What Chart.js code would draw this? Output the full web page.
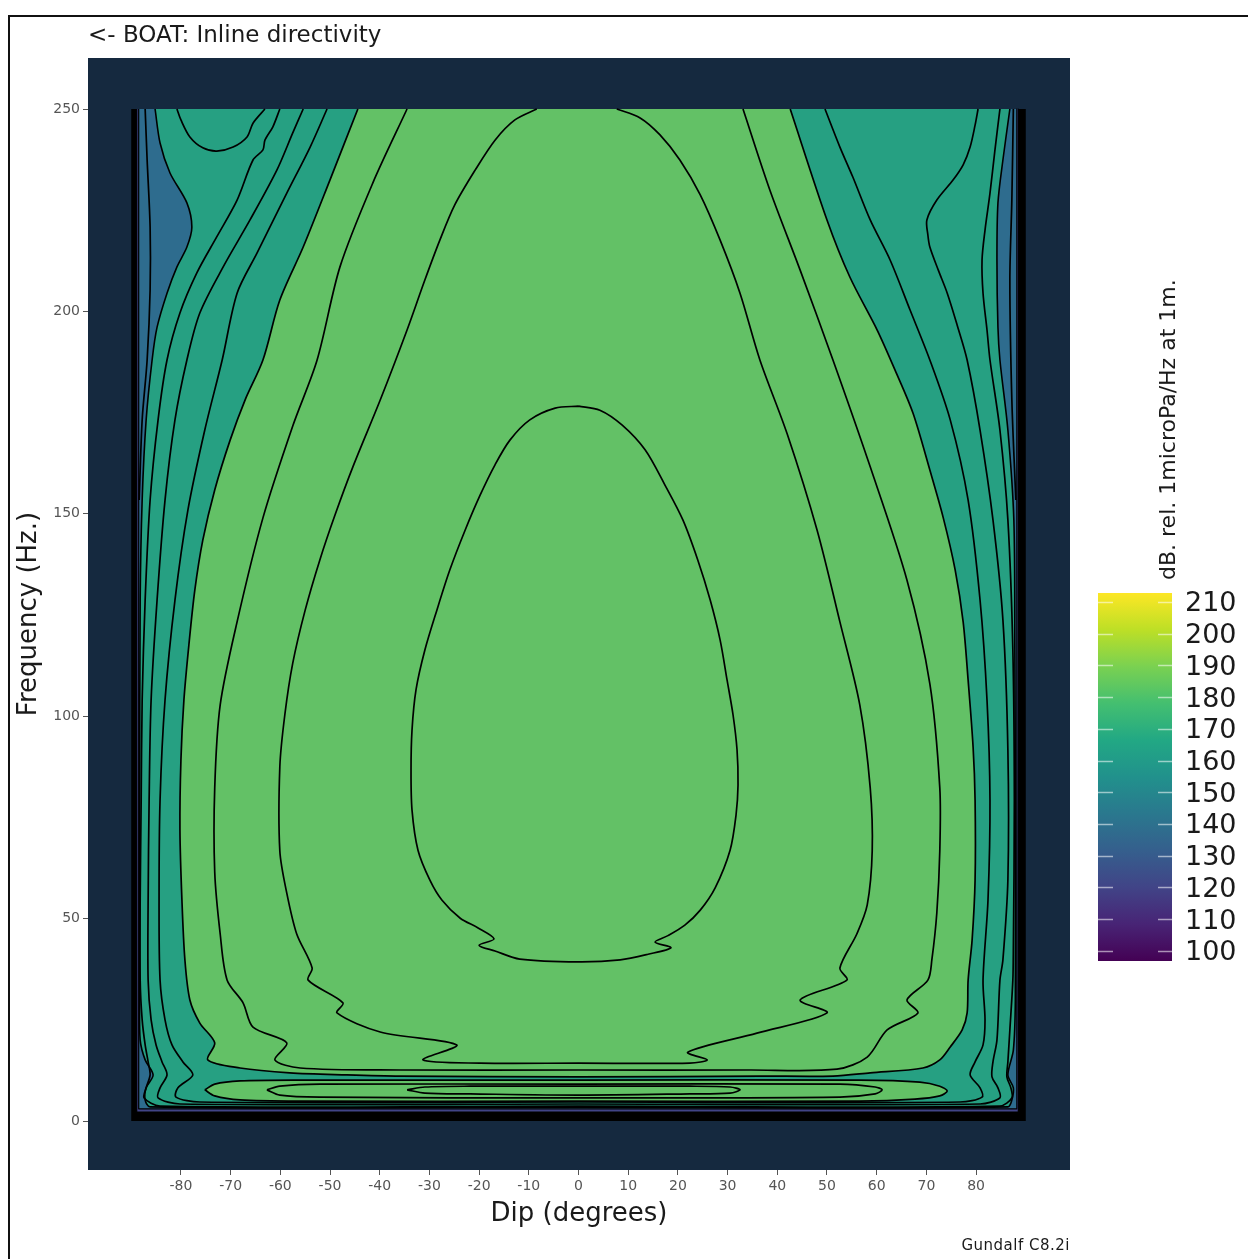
<!DOCTYPE html>
<html>
<head>
<meta charset="utf-8">
<script src="https://cdn.jsdelivr.net/npm/chart.js@4.4.1/dist/chart.umd.min.js"></script>
<style>
  html, body { margin: 0; padding: 0; background: #fff; width: 1248px; height: 1259px; overflow: hidden; }
  body { position: relative; font-family: 'DejaVu Sans', sans-serif; }
  #frame { position: absolute; left: 8px; top: 15px; width: 1300px; height: 1300px; border: 2px solid #111; }
  #main { position: absolute; left: 0; top: 0; }
  #bar { position: absolute; left: 1090px; top: 553px; }
  .txt { position: absolute; white-space: nowrap; color: #1a1a1a; }
  #title { left: 88px; top: 20px; font-size: 23px; line-height: 28px; }
  #cbTitle { left: 1156px; top: 580px; font-size: 22px; line-height: 24px; transform-origin: 0 0; transform: rotate(-90deg); }
  #credit { right: 178px; top: 1236px; font-size: 15px; line-height: 18px; letter-spacing: 0.5px; }
</style>
</head>
<body>
<div id="frame"></div>
<canvas id="main" width="1248" height="1259"></canvas>
<canvas id="bar" width="158" height="448"></canvas>
<div class="txt" id="title">&lt;- BOAT: Inline directivity</div>
<div class="txt" id="cbTitle">dB. rel. 1microPa/Hz at 1m.</div>
<div class="txt" id="credit">Gundalf C8.2i</div>
<script>
// axes
const xTicks = [-80, -70, -60, -50, -40, -30, -20, -10, 0, 10, 20, 30, 40, 50, 60, 70, 80];
const yTicks = [0, 50, 100, 150, 200, 250];
const xRange = [-98.7, 98.9];
const yRange = [-12.1, 262.6];
// colour bar (dB)
const cbTicks = [100, 110, 120, 130, 140, 150, 160, 170, 180, 190, 200, 210];
const cbRange = [96.8, 212.8];
const viridis = ['#440154', '#482475', '#414487', '#355f8d', '#2a788e', '#21918c', '#22a884', '#44bf70', '#7ad151', '#bddf26', '#fde725'];

// filled bands, [dip deg, Hz], painted bottom to top
const plotEdge = [[-90, 250], [90, 250], [90, 0], [-90, 0], [-90, 250]];
const purpleBand = [[-88.9, 250], [88.5, 250], [88.5, 2.2], [-88.9, 2.2], [-88.9, 250]];
const blueBand = [[-88.5, 250], [88.2, 250], [88.2, 3.0], [-88.5, 3.0], [-88.5, 250]];
const tealBand = [[-85.2, 250], [86.8, 250], [86.8, 250], [85.4, 237.4], [84.4, 226.8], [84.2, 212.7], [84.4, 196.1],
  [84.8, 188.0], [86.4, 170.7], [87.6, 148.5], [87.8, 116.4], [87.9, 79.3], [87.9, 29.9], [87.5, 17.5], [86.4, 11.4],
  [87.5, 8.2], [87.2, 5.2], [86.4, 3.5], [0, 3.4], [-86.2, 3.5], [-87.2, 5.2], [-87.0, 8.2], [-85.6, 11.4], [-87.2, 15.1],
  [-88.2, 20.0], [-88.3, 29.9], [-88.3, 79.3], [-88.2, 128.7], [-87.8, 153.4], [-87.0, 173.2], [-85.8, 188.0],
  [-84.8, 196.1], [-82.8, 204.5], [-80.8, 211.0], [-78.8, 215.9], [-77.8, 220.8], [-78.8, 226.8], [-82.2, 234.2],
  [-84.2, 241.6], [-85.2, 250]];
const greenMain = [[-44.4, 250], [42.6, 250], [42.6, 250], [50.0, 222.6], [54.6, 208.5], [60.1, 195.4], [63.7, 185.5],
  [67.3, 174.9], [70.7, 160.8], [73.4, 149.0], [75.8, 136.1], [77.4, 123.3], [78.4, 108.9], [79.4, 92.4], [79.8, 79.3],
  [79.8, 59.5], [79.2, 44.7], [78.4, 34.8], [78.2, 26.7], [77.2, 22.5], [74.8, 18.3], [72.7, 15.1], [69.3, 13.1],
  [58.7, 11.9], [51.2, 11.1], [36.5, 11.1], [0, 10.9], [-35.9, 11.1], [-46.6, 11.4], [-58.1, 11.9], [-68.1, 13.1],
  [-74.6, 15.1], [-73.2, 19.3], [-76.2, 24.2], [-78.2, 29.9], [-79.2, 39.8], [-79.8, 54.6], [-80.2, 71.9], [-80.0, 89.2],
  [-79.4, 104.0], [-78.4, 117.6], [-77.2, 131.2], [-75.6, 143.5], [-73.2, 155.9], [-70.1, 168.2], [-67.1, 178.1],
  [-63.5, 188.0], [-60.1, 202.8], [-55.4, 215.9], [-50.0, 232.5], [-44.4, 250]];
const greenLow = [[-75.2, 7.7], [-73.2, 9.1], [-68.1, 9.9], [-56.0, 10.1], [0, 10.1], [56.6, 10.1], [68.7, 9.6],
  [72.7, 8.6], [74.2, 7.4], [72.7, 6.2], [67.7, 5.4], [56.6, 4.9], [0, 4.9], [-56.0, 4.9], [-68.1, 5.2], [-73.2, 6.2],
  [-75.2, 7.7]];

// contour lines
const egg = [[0, 176.6], [-4.7, 176.1], [-9.8, 173.2], [-13.8, 168.2], [-16.8, 162.1], [-19.8, 154.6], [-22.8, 146.0],
  [-25.9, 136.1], [-28.5, 126.2], [-30.9, 116.4], [-32.7, 106.5], [-33.5, 96.6], [-33.7, 86.7], [-33.5, 76.8],
  [-32.3, 66.9], [-29.9, 59.5], [-27.5, 54.6], [-23.8, 50.1], [-20.2, 47.7], [-17.0, 45.0], [-20.0, 43.4], [-16.8, 42.0],
  [-11.8, 40.0], [0, 39.3], [8.4, 39.8], [14.0, 41.2], [18.6, 42.8], [15.4, 44.2], [18.0, 45.8], [21.4, 48.4],
  [24.5, 52.1], [27.5, 57.6], [30.5, 66.9], [31.7, 75.6], [32.1, 83.0], [31.9, 91.7], [31.1, 100.3], [29.9, 108.9],
  [28.5, 118.8], [26.5, 128.7], [24.0, 138.6], [21.0, 148.5], [17.4, 157.1], [13.4, 165.8], [8.8, 171.9], [4.3, 175.6],
  [0, 176.6]];
const ring2 = [[-8.4, 250], [-12.8, 247.3], [-16.8, 242.3], [-20.8, 234.9], [-24.9, 226.3], [-27.9, 217.6],
  [-30.9, 207.8], [-34.5, 195.4], [-39.9, 178.1], [-45.4, 161.6], [-49.0, 149.7], [-52.0, 138.8], [-55.0, 126.2],
  [-57.5, 113.1], [-59.1, 100.3], [-60.1, 87.5], [-60.1, 66.7], [-58.7, 56.3], [-56.7, 46.2], [-53.6, 37.8],
  [-54.4, 34.8], [-47.4, 29.2], [-48.6, 26.7], [-39.9, 22.0], [-24.5, 18.8], [-31.3, 15.1], [-19.8, 14.3], [0, 14.3],
  [22.4, 14.3], [25.9, 15.1], [22.0, 17.0], [35.9, 21.7], [50.0, 26.7], [44.6, 29.9], [54.0, 34.8], [52.6, 37.8],
  [56.0, 46.2], [58.1, 53.4], [59.1, 66.7], [58.7, 82.3], [56.6, 102.8], [52.6, 123.3], [48.0, 146.0], [42.0, 169.7],
  [36.5, 188.0], [32.5, 204.5], [28.5, 217.6], [24.5, 228.8], [20.4, 237.4], [16.4, 243.6], [12.4, 247.8], [7.7, 250]];
const ring3 = [[-34.5, 250], [-41.4, 231.7], [-48.0, 211.0], [-52.6, 188.0], [-57.5, 171.7], [-63.5, 149.0],
  [-68.7, 123.3], [-72.1, 102.8], [-73.2, 82.3], [-73.2, 61.5], [-72.1, 46.2], [-70.7, 34.8], [-67.5, 29.2],
  [-65.5, 23.2], [-58.7, 19.3], [-61.1, 15.1], [-56.0, 13.1], [-35.9, 12.6], [0, 12.6], [34.5, 12.6], [52.0, 12.8],
  [58.1, 15.8], [62.1, 22.5], [68.3, 26.7], [66.1, 29.9], [70.3, 34.8], [71.1, 39.8], [72.1, 51.4], [72.7, 66.7],
  [72.7, 82.3], [70.7, 108.0], [66.1, 133.6], [58.7, 161.6], [51.2, 188.0], [44.6, 210.2], [38.5, 230.0], [33.1, 250]];
const edge3 = [[-50.6, 250], [-54.0, 240.6], [-58.7, 229.2], [-64.7, 214.4], [-68.7, 204.5], [-71.7, 188.0],
  [-75.2, 170.7], [-78.6, 150.9], [-81.2, 128.7], [-83.2, 104.0], [-84.2, 79.3], [-84.4, 54.6], [-84.2, 34.8],
  [-83.2, 25.0], [-81.8, 18.8], [-79.6, 14.6], [-77.6, 11.4], [-80.6, 8.2], [-81.0, 5.9], [-76.2, 4.7], [0, 4.7],
  [76.8, 4.7], [81.2, 5.9], [80.8, 8.2], [78.8, 11.4], [79.8, 14.6], [81.4, 18.8], [81.8, 25.0], [81.4, 34.8],
  [82.4, 54.6], [82.8, 79.3], [82.2, 104.0], [80.8, 128.7], [78.4, 153.4], [74.8, 173.2], [70.7, 188.0], [66.7, 200.4],
  [62.7, 212.7], [58.7, 222.6], [55.2, 233.2], [52.6, 240.6], [49.6, 250]];
const edge2 = [[-55.4, 250], [-57.5, 244.1], [-60.7, 234.9], [-66.1, 222.6], [-71.5, 211.0], [-76.2, 199.6],
  [-78.8, 188.0], [-81.2, 173.2], [-83.2, 153.4], [-84.8, 128.7], [-86.0, 104.0], [-86.4, 79.3], [-86.6, 54.6],
  [-86.6, 34.8], [-86.0, 25.0], [-85.0, 18.8], [-83.8, 14.6], [-82.8, 11.4], [-84.2, 8.2], [-84.6, 5.7], [-80.2, 4.2],
  [0, 4.2], [80.8, 4.2], [84.8, 5.7], [84.4, 8.2], [83.2, 10.9], [83.4, 14.6], [84.2, 20.0], [84.8, 34.8], [85.4, 39.8],
  [86.4, 59.5], [86.4, 91.7], [85.4, 123.8], [83.4, 148.5], [80.8, 170.7], [78.2, 188.0], [76.2, 196.6], [74.2, 204.5],
  [72.4, 210.2], [70.7, 215.9], [70.3, 218.9], [70.1, 222.6], [72.1, 227.5], [75.4, 232.5], [77.4, 236.2],
  [78.8, 240.6], [79.8, 246.0], [80.4, 250]];
const edge1 = [[-60.1, 250], [-61.5, 245.6], [-63.1, 242.3], [-63.5, 239.9], [-65.5, 237.4], [-68.7, 227.5],
  [-72.8, 218.4], [-76.8, 209.5], [-80.2, 199.6], [-82.8, 188.0], [-84.6, 173.2], [-86.2, 153.4], [-87.2, 128.7],
  [-87.8, 104.0], [-88.0, 79.3], [-88.2, 54.6], [-88.2, 34.8], [-87.8, 25.0], [-87.2, 18.8], [-86.6, 14.6],
  [-86.2, 11.4], [-87.0, 8.2], [-87.4, 5.7], [-84.2, 3.7], [0, 3.7], [84.8, 3.7], [87.2, 5.7], [87.0, 8.2], [86.2, 10.9],
  [86.4, 14.6], [86.8, 22.5], [87.4, 34.8], [87.5, 42.2], [87.7, 79.3], [87.4, 116.4], [86.4, 148.5], [84.8, 170.7],
  [82.8, 188.0], [82.2, 195.4], [81.4, 204.5], [81.2, 212.7], [81.8, 220.1], [82.8, 229.2], [83.8, 239.9], [84.8, 250]];
const pocket = [[-80.8, 250], [-80.0, 247.3], [-78.2, 243.1], [-75.6, 240.4], [-72.8, 239.6], [-69.5, 240.6],
  [-66.7, 243.1], [-65.5, 246.5], [-63.1, 250]];
const blueLeft = [[-87.2, 250], [-86.8, 237.4], [-86.2, 220.8], [-86.2, 205.3], [-86.8, 188.0], [-87.8, 173.2], [-88.4, 153.4]];
const blueRight = [[87.5, 250], [87.2, 227.5], [86.8, 207.8], [87.2, 178.1], [88.0, 153.4]];
const lowRing2 = [[-62.7, 7.7], [-60.1, 8.6], [-52.0, 9.1], [0, 9.1], [52.6, 9.1], [59.7, 8.4], [61.1, 7.7], [59.7, 6.7],
  [52.6, 5.9], [0, 5.7], [-52.0, 5.9], [-60.1, 6.4], [-62.7, 7.7]];
const lowRing3 = [[-34.5, 7.7], [-30.9, 8.4], [-21.8, 8.6], [0, 8.6], [22.4, 8.6], [30.5, 8.4], [32.5, 7.7], [30.5, 6.9],
  [22.4, 6.7], [0, 6.4], [-21.8, 6.7], [-30.9, 6.9], [-34.5, 7.7]];

Chart.defaults.font.family = "'DejaVu Sans', sans-serif";

const toPts = a => a.map(([x, y]) => ({ x, y }));
const band = (a, color, tension, bw) => ({
  data: toPts(a), backgroundColor: color, fill: 'shape', borderColor: '#000', borderWidth: bw,
  tension, pointRadius: 0, borderJoinStyle: 'round',
  // no contour line along the top edge of the data
  segment: { borderColor: c => (c.p0.parsed.y >= 249.99 && c.p1.parsed.y >= 249.99) ? 'rgba(0,0,0,0)' : undefined },
});
const contour = a => ({
  data: toPts(a), fill: false, borderColor: '#000', borderWidth: 1.7, tension: 0.3,
  pointRadius: 0, borderJoinStyle: 'round',
});

const datasets = [
  band(plotEdge, '#000000', 0, 0),
  band(purpleBand, '#414487', 0, 1.2),
  band(blueBand, '#2e6c8e', 0, 1.2),
  band(tealBand, '#26a082', 0.3, 1.6),
  band(greenMain, '#63c166', 0.3, 1.7),
  band(greenLow, '#63c166', 0.3, 1.7),
  contour(blueLeft), contour(blueRight), contour(pocket),
  contour(edge1), contour(edge2), contour(edge3),
  contour(ring3), contour(ring2), contour(egg),
  contour(lowRing2), contour(lowRing3),
].map((d, i) => ({ ...d, order: -i }));

const panelBg = {
  id: 'panelBg',
  beforeDatasetsDraw(chart) {
    const { ctx, chartArea: a } = chart;
    ctx.save();
    ctx.fillStyle = '#15293f';
    ctx.fillRect(a.left, a.top, a.right - a.left, a.bottom - a.top);
    ctx.restore();
  },
};

new Chart(document.getElementById('main'), {
  type: 'line',
  data: { datasets },
  options: {
    responsive: false, animation: false, events: [],
    layout: { padding: { top: 58, right: 178, left: 0, bottom: 0 } },
    plugins: { legend: { display: false }, tooltip: { enabled: false } },
    scales: {
      x: {
        type: 'linear', min: xRange[0], max: xRange[1],
        afterBuildTicks: s => { s.ticks = xTicks.map(v => ({ value: v })); },
        afterFit: s => { s.height = 89; },
        ticks: { color: '#555', font: { size: 14 }, padding: 3, autoSkip: false, maxRotation: 0 },
        grid: { drawOnChartArea: false, color: '#555', tickLength: 5 },
        border: { display: false },
        title: { display: true, text: 'Dip (degrees)', color: '#1a1a1a', font: { size: 26 }, padding: { top: 0, bottom: 29 } },
      },
      y: {
        type: 'linear', min: yRange[0], max: yRange[1],
        afterBuildTicks: s => { s.ticks = yTicks.map(v => ({ value: v })); },
        afterFit: s => { s.width = 88; },
        ticks: { color: '#555', font: { size: 14 }, padding: 3, autoSkip: false },
        grid: { drawOnChartArea: false, color: '#555', tickLength: 5 },
        border: { display: false },
        title: { display: true, text: 'Frequency (Hz.)', color: '#1a1a1a', font: { size: 26 }, padding: { top: 14, bottom: 0 } },
      },
    },
  },
  plugins: [panelBg],
});

// white level marks across the colour bar
const cbMarks = {
  id: 'cbMarks',
  afterDatasetsDraw(chart) {
    const { ctx, chartArea: a, scales: { y } } = chart;
    ctx.save();
    ctx.strokeStyle = 'rgba(255,255,255,0.55)';
    ctx.lineWidth = 1.3;
    cbTicks.forEach(v => {
      const py = Math.round(y.getPixelForValue(v)) + 0.5;
      ctx.beginPath();
      ctx.moveTo(a.left, py); ctx.lineTo(a.left + 15, py);
      ctx.moveTo(a.right - 14, py); ctx.lineTo(a.right, py);
      ctx.stroke();
    });
    ctx.restore();
  },
};

new Chart(document.getElementById('bar'), {
  type: 'bar',
  data: {
    labels: [''],
    datasets: [{
      data: [cbRange], barPercentage: 1, categoryPercentage: 1, borderWidth: 0,
      backgroundColor: c => {
        const a = c.chart.chartArea;
        if (!a) return viridis[0];
        const g = c.chart.ctx.createLinearGradient(0, a.bottom, 0, a.top);
        viridis.forEach((col, i) => g.addColorStop(i / (viridis.length - 1), col));
        return g;
      },
    }],
  },
  options: {
    responsive: false, animation: false, events: [],
    layout: { padding: { left: 8, top: 40, bottom: 40, right: 0 } },
    plugins: { legend: { display: false }, tooltip: { enabled: false } },
    scales: {
      x: { display: false },
      y: {
        position: 'right', min: cbRange[0], max: cbRange[1],
        afterBuildTicks: s => { s.ticks = cbTicks.map(v => ({ value: v })); },
        afterFit: s => { s.width = 76; },
        ticks: { color: '#1a1a1a', font: { size: 27 }, padding: 13, autoSkip: false, labelOffset: 2.5 },
        grid: { display: false, drawTicks: false },
        border: { display: false },
      },
    },
  },
  plugins: [cbMarks],
});
</script>
</body>
</html>
